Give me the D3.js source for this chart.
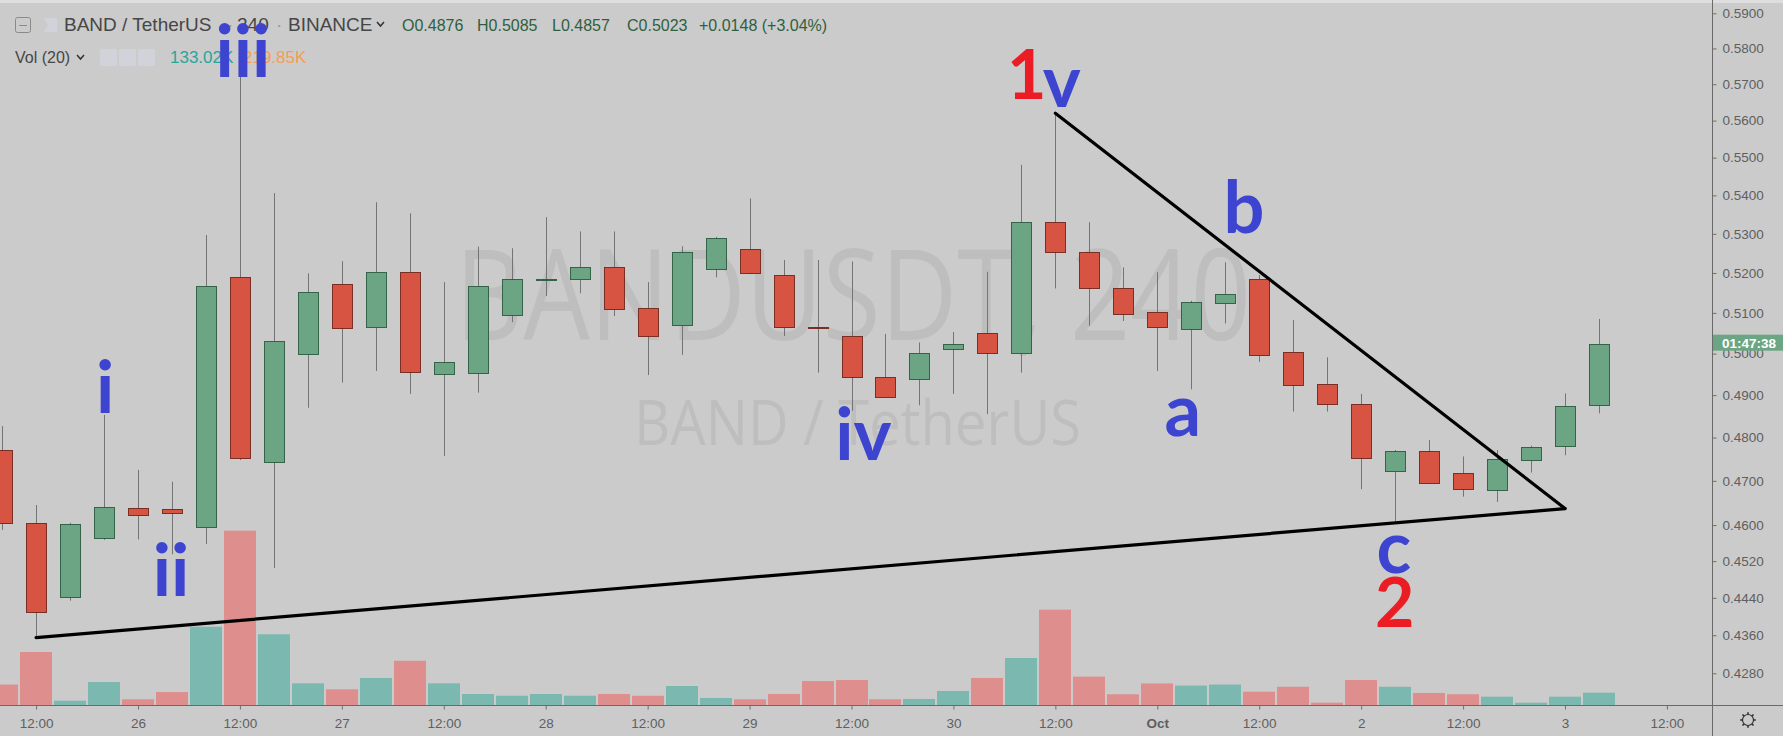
<!DOCTYPE html>
<html>
<head>
<meta charset="utf-8">
<script src="https://cdn.jsdelivr.net/npm/d3@7"></script>
<style>
    html, body { margin: 0; padding: 0; background: #cbcbcb; overflow: hidden; }
    svg { display: block; }
    .axis text { font-family: "Liberation Sans", Arial, sans-serif; font-size: 13.5px; fill: #5f5f5f; }
    .axis line { stroke: #6f6f6f; }
    .axis path { display: none; }
</style>
</head>
<body>
<div id="chart"></div>
<script>
// BANDUSDT 4h candles (Binance)
const candleTimes = [
    "2019-09-25T08:00Z", "2019-09-25T12:00Z", "2019-09-25T16:00Z", "2019-09-25T20:00Z",
    "2019-09-26T00:00Z", "2019-09-26T04:00Z", "2019-09-26T08:00Z", "2019-09-26T12:00Z", "2019-09-26T16:00Z", "2019-09-26T20:00Z",
    "2019-09-27T00:00Z", "2019-09-27T04:00Z", "2019-09-27T08:00Z", "2019-09-27T12:00Z", "2019-09-27T16:00Z", "2019-09-27T20:00Z",
    "2019-09-28T00:00Z", "2019-09-28T04:00Z", "2019-09-28T08:00Z", "2019-09-28T12:00Z", "2019-09-28T16:00Z", "2019-09-28T20:00Z",
    "2019-09-29T00:00Z", "2019-09-29T04:00Z", "2019-09-29T08:00Z", "2019-09-29T12:00Z", "2019-09-29T16:00Z", "2019-09-29T20:00Z",
    "2019-09-30T00:00Z", "2019-09-30T04:00Z", "2019-09-30T08:00Z", "2019-09-30T12:00Z", "2019-09-30T16:00Z", "2019-09-30T20:00Z",
    "2019-10-01T00:00Z", "2019-10-01T04:00Z", "2019-10-01T08:00Z", "2019-10-01T12:00Z", "2019-10-01T16:00Z", "2019-10-01T20:00Z",
    "2019-10-02T00:00Z", "2019-10-02T04:00Z", "2019-10-02T08:00Z", "2019-10-02T12:00Z", "2019-10-02T16:00Z", "2019-10-02T20:00Z",
    "2019-10-03T00:00Z", "2019-10-03T04:00Z"
];
const openPrices = [0.4772, 0.4604, 0.4442, 0.4570, 0.4639, 0.4637, 0.4595, 0.5191, 0.4743, 0.5001, 0.5171, 0.5066,
    0.5203, 0.4952, 0.4952, 0.5093, 0.5184, 0.5186, 0.5216, 0.5112, 0.5071, 0.5212, 0.5260, 0.5194,
    0.5064, 0.5044, 0.4944, 0.4938, 0.5010, 0.5050, 0.5001, 0.5331, 0.5254, 0.5163, 0.5102, 0.5062,
    0.5124, 0.5184, 0.5004, 0.4926, 0.4880, 0.4722, 0.4769, 0.4719, 0.4679, 0.4750, 0.4782, 0.4876];
const highPrices = [0.4827, 0.4645, 0.4605, 0.4853, 0.4725, 0.4698, 0.5297, 0.5750, 0.5406, 0.5199, 0.5230, 0.5382,
    0.5353, 0.5177, 0.5267, 0.5263, 0.5343, 0.5306, 0.5306, 0.5177, 0.5268, 0.5292, 0.5392, 0.5233,
    0.5233, 0.5229, 0.5048, 0.5027, 0.5053, 0.5203, 0.5481, 0.5620, 0.5330, 0.5214, 0.5202, 0.5130,
    0.5227, 0.5195, 0.5082, 0.4991, 0.4903, 0.4771, 0.4794, 0.4756, 0.4771, 0.4781, 0.4904, 0.5085];
const lowPrices = [0.4589, 0.4355, 0.4434, 0.4567, 0.4568, 0.4535, 0.4558, 0.4748, 0.4505, 0.4870, 0.4930, 0.4958,
    0.4903, 0.4757, 0.4906, 0.5077, 0.5142, 0.5149, 0.5092, 0.4948, 0.4997, 0.5189, 0.5197, 0.5043,
    0.4954, 0.4863, 0.4895, 0.4876, 0.4903, 0.4855, 0.4954, 0.5161, 0.5068, 0.5080, 0.4958, 0.4914,
    0.5074, 0.4980, 0.4861, 0.4861, 0.4681, 0.4609, 0.4693, 0.4664, 0.4652, 0.4719, 0.4759, 0.4857];
const closePrices = [0.4606, 0.4409, 0.4602, 0.4640, 0.4623, 0.4628, 0.5166, 0.4754, 0.5031, 0.5153, 0.5062, 0.5203,
    0.4956, 0.4980, 0.5166, 0.5184, 0.5186, 0.5216, 0.5111, 0.5043, 0.5254, 0.5290, 0.5199, 0.5065,
    0.5062, 0.4944, 0.4897, 0.5001, 0.5023, 0.5001, 0.5331, 0.5254, 0.5163, 0.5099, 0.5066, 0.5128,
    0.5147, 0.4997, 0.4924, 0.4879, 0.4754, 0.4769, 0.4695, 0.4683, 0.4750, 0.4779, 0.4875, 0.5023];
// volume in thousands
const volumesK = [221, 573, 46, 248, 62, 140, 846, 1885, 764, 234, 170, 292,
    478, 234, 119, 100, 119, 100, 119, 100, 205, 76, 62, 119,
    259, 270, 62, 65, 151, 292, 508, 1031, 307, 116, 233, 210,
    221, 144, 197, 25, 270, 197, 130, 116, 90, 25, 90, 133.02];
const volumeMA = "219.85K";

const priceTicks = [0.59, 0.58, 0.57, 0.56, 0.55, 0.54, 0.53, 0.52, 0.51, 0.50, 0.49, 0.48, 0.47, 0.46, 0.452, 0.444, 0.436, 0.428];
const timeTicks = ["2019-09-25T12:00Z", "2019-09-26T00:00Z", "2019-09-26T12:00Z", "2019-09-27T00:00Z", "2019-09-27T12:00Z",
    "2019-09-28T00:00Z", "2019-09-28T12:00Z", "2019-09-29T00:00Z", "2019-09-29T12:00Z", "2019-09-30T00:00Z",
    "2019-09-30T12:00Z", "2019-10-01T00:00Z", "2019-10-01T12:00Z", "2019-10-02T00:00Z", "2019-10-02T12:00Z",
    "2019-10-03T00:00Z", "2019-10-03T12:00Z"];
const timeTickLabels = ["12:00", "26", "12:00", "27", "12:00", "28", "12:00", "29", "12:00", "30",
    "12:00", "Oct", "12:00", "2", "12:00", "3", "12:00"];

// Elliott wave labels: candle index (fractional) and price of the baseline
const waveText = ["i", "ii", "iii", "iv", "1", "v", "a", "b", "c", "2"];
const waveIndex = [3.03, 4.97, 7.09, 25.35, 30.16, 31.19, 34.75, 36.55, 40.96, 40.99];
const wavePrice = [0.4858, 0.4445, 0.5720, 0.4748, 0.5658, 0.5638, 0.4804, 0.5302, 0.4494, 0.4378];
const waveDegree = ["minor", "minor", "minor", "minor", "major", "minor", "minor", "minor", "minor", "major"];

// triangle trendlines: [candle index, price]
const lowerLine = [[1, 0.4355], [46, 0.4637]];
const upperLine = [[31, 0.5620], [46, 0.4637]];

const width = 1783, height = 736;
const plotRight = 1712, paneBottom = 705;

const svg = d3.select("#chart")
    .append("svg")
    .attr("width", width)
    .attr("height", height);

const x = d3.scaleUtc()
    .domain([new Date("2019-09-26T00:00Z"), new Date("2019-10-03T00:00Z")])
    .range([138, 1565]);
const y = d3.scaleLog().domain([0.428, 0.59]).range([673.3, 13.3]);
const yVol = d3.scaleLinear().domain([0, 2000]).range([paneBottom, paneBottom - 185]);

const t0 = Date.parse(candleTimes[0]);
const xAt = (idx) => x(new Date(t0 + idx * 4 * 3600e3));

const candles = candleTimes.map((t, i) => ({
    t: new Date(t), o: openPrices[i], h: highPrices[i], l: lowPrices[i], c: closePrices[i], v: volumesK[i]
}));

svg.append("rect").attr("width", width).attr("height", height).attr("fill", "#cbcbcb");
svg.append("rect").attr("width", width).attr("height", 3).attr("fill", "#dedede");

svg.append("clipPath").attr("id", "plot-clip")
    .append("rect").attr("x", 0).attr("y", 0).attr("width", plotRight).attr("height", paneBottom);

const plot = svg.append("g").attr("clip-path", "url(#plot-clip)");

// watermark
plot.append("text")
    .attr("x", 455).attr("y", 340)
    .attr("textLength", 796).attr("lengthAdjust", "spacingAndGlyphs")
    .style("font-family", "'Open Sans', sans-serif")
    .style("font-size", "126px")
    .style("fill", "#bebebe")
    .text("BANDUSDT, 240");
plot.append("text")
    .attr("x", 634).attr("y", 445)
    .attr("textLength", 447).attr("lengthAdjust", "spacingAndGlyphs")
    .style("font-family", "'Open Sans', sans-serif")
    .style("font-size", "63px")
    .style("fill", "#bebebe")
    .text("BAND / TetherUS");

// volume bars
plot.selectAll("rect.vol")
    .data(candles)
    .enter()
    .append("rect")
    .attr("class", "vol")
    .attr("x", (d) => Math.round(x(d.t)) - 16)
    .attr("y", (d) => yVol(d.v))
    .attr("width", 32)
    .attr("height", (d) => paneBottom - yVol(d.v))
    .attr("fill", (d) => (d.c >= d.o ? "#7ab8b0" : "#df8e8e"));

// wicks
plot.selectAll("line.wick")
    .data(candles)
    .enter()
    .append("line")
    .attr("class", "wick")
    .attr("x1", (d) => Math.round(x(d.t)) + 0.5)
    .attr("x2", (d) => Math.round(x(d.t)) + 0.5)
    .attr("y1", (d) => y(d.h))
    .attr("y2", (d) => y(d.l))
    .attr("stroke", "#747474")
    .attr("stroke-width", 1);

// bodies
plot.selectAll("rect.body")
    .data(candles)
    .enter()
    .append("rect")
    .attr("class", "body")
    .attr("x", (d) => Math.round(x(d.t)) - 9.5)
    .attr("y", (d) => Math.round(y(Math.max(d.o, d.c))) + 0.5)
    .attr("width", 20)
    .attr("height", (d) => Math.max(1, Math.round(Math.abs(y(d.o) - y(d.c)))))
    .attr("fill", (d) => (d.c >= d.o ? "#6ba583" : "#d75442"))
    .attr("stroke", (d) => (d.c >= d.o ? "#225437" : "#6b1e14"))
    .attr("stroke-width", 1)
    .attr("stroke-opacity", 0.85);

// triangle
const line = d3.line().x((d) => xAt(d[0])).y((d) => y(d[1]));
[lowerLine, upperLine].forEach((pts) => {
    plot.append("path")
        .attr("d", line(pts))
        .attr("fill", "none")
        .attr("stroke", "#000")
        .attr("stroke-width", 3.2)
        .attr("stroke-linecap", "round");
});

// frame lines
svg.append("line").attr("x1", plotRight + 0.5).attr("x2", plotRight + 0.5).attr("y1", 0).attr("y2", height)
    .attr("stroke", "#6a6a6a");
svg.append("line").attr("x1", 0).attr("x2", width).attr("y1", paneBottom + 0.5).attr("y2", paneBottom + 0.5)
    .attr("stroke", "#6a6a6a");

// price axis
svg.append("g")
    .attr("class", "axis")
    .attr("transform", `translate(${plotRight + 0.5},0)`)
    .call(d3.axisRight(y).tickValues(priceTicks).tickFormat(d3.format(".4f")).tickSize(4).tickPadding(6));

// time axis
const xAxis = svg.append("g")
    .attr("class", "axis")
    .attr("transform", `translate(0,${paneBottom + 0.5})`)
    .call(d3.axisBottom(x)
        .tickValues(timeTicks.map((d) => new Date(d)))
        .tickFormat((d, i) => timeTickLabels[i])
        .tickSize(4)
        .tickPadding(9));
xAxis.selectAll("text").filter((d, i) => timeTickLabels[i] === "Oct").style("font-weight", "bold");

// last price / countdown label
const last = candles[candles.length - 1];
const prev = candles[candles.length - 2];
svg.append("rect")
    .attr("x", plotRight + 1).attr("y", y(last.c) - 9.5)
    .attr("width", width - plotRight - 1).attr("height", 16)
    .attr("fill", "#6ba583");
svg.append("text")
    .attr("x", plotRight + 10).attr("y", y(last.c) + 3.5)
    .style("font-family", "'Liberation Sans', Arial, sans-serif")
    .style("font-size", "13.5px")
    .style("font-weight", "bold")
    .style("fill", "#fff")
    .text("01:47:38");

// gear icon
const gear = svg.append("g").attr("transform", "translate(1748,720)")
    .attr("stroke", "#333").attr("fill", "none");
gear.append("circle").attr("r", 5.5).attr("stroke-width", 1.2);
d3.range(8).forEach((k) => {
    const a = (k * Math.PI) / 4;
    gear.append("line")
        .attr("x1", 5.5 * Math.cos(a)).attr("y1", 5.5 * Math.sin(a))
        .attr("x2", 7.8 * Math.cos(a)).attr("y2", 7.8 * Math.sin(a))
        .attr("stroke-width", 1.6);
});

// header legend
const header = svg.append("g").style("font-family", "'Liberation Sans', Arial, sans-serif");
header.append("rect").attr("x", 15.5).attr("y", 17.5).attr("width", 15).attr("height", 15).attr("rx", 2)
    .attr("fill", "none").attr("stroke", "#8a8a8a");
header.append("line").attr("x1", 19).attr("x2", 27).attr("y1", 25.5).attr("y2", 25.5).attr("stroke", "#8a8a8a");
header.append("path").attr("d", "M44,18 H57 V32 H44 L48,25 Z").attr("fill", "#d2d2db");

const titleParts = [["BAND / TetherUS", 64, "#464646"], ["·", 227, "#9a9a9a"], ["240", 237, "#464646"],
    ["·", 276, "#9a9a9a"], ["BINANCE", 288, "#464646"]];
titleParts.forEach(([txt, tx, col]) => {
    header.append("text").attr("x", tx).attr("y", 31).style("font-size", "19px").style("fill", col).text(txt);
});
header.append("path").attr("d", "M377,22 L380.5,26 L384,22").attr("fill", "none").attr("stroke", "#333").attr("stroke-width", 1.5);

const fmt = d3.format(".4f");
const chg = last.c - prev.c;
const ohlc = [["O" + fmt(last.o), 402], ["H" + fmt(last.h), 477], ["L" + fmt(last.l), 552], ["C" + fmt(last.c), 627],
    [(chg >= 0 ? "+" : "") + fmt(chg) + " (" + (chg >= 0 ? "+" : "") + d3.format(".2f")(chg / prev.c * 100) + "%)", 699]];
ohlc.forEach(([txt, tx]) => {
    header.append("text").attr("x", tx).attr("y", 31).style("font-size", "16px").style("fill", "#2f5f40").text(txt);
});

header.append("text").attr("x", 15).attr("y", 63).style("font-size", "16px").style("fill", "#464646").text("Vol (20)");
header.append("path").attr("d", "M77,55 L80.5,59 L84,55").attr("fill", "none").attr("stroke", "#333").attr("stroke-width", 1.5);
[100, 119, 138].forEach((bx) => {
    header.append("rect").attr("x", bx).attr("y", 49).attr("width", 17).attr("height", 17).attr("rx", 2).attr("fill", "#d2d2db");
});
header.append("text").attr("x", 170).attr("y", 63).style("font-size", "17px").style("fill", "#26a69a")
    .text(d3.format(".2f")(last.v) + "K");
header.append("text").attr("x", 243).attr("y", 63).style("font-size", "17px").style("fill", "#f79d4e")
    .text(volumeMA);

// wave labels
svg.selectAll("text.wave")
    .data(waveText)
    .enter()
    .append("text")
    .attr("class", "wave")
    .attr("x", (d, i) => xAt(waveIndex[i]))
    .attr("y", (d, i) => y(wavePrice[i]))
    .attr("text-anchor", "middle")
    .style("font-family", "Lato, 'Open Sans', sans-serif")
    .style("font-weight", "bold")
    .style("font-size", (d, i) => (waveDegree[i] === "major" ? "68px" : "72px"))
    .style("fill", (d, i) => (waveDegree[i] === "major" ? "#ec1c24" : "#3d44d0"))
    .text((d) => d);
</script>
</body>
</html>
